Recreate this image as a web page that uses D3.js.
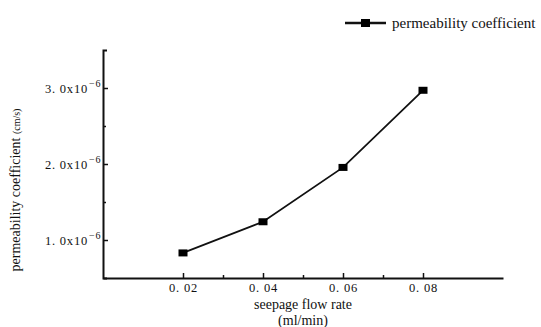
<!DOCTYPE html>
<meta charset="utf-8">
<style>
body { margin: 0; background: #fff; }
svg text { font-family: "Liberation Serif", "Times New Roman", "DejaVu Serif", serif; fill: #111; }
.tick text { font-size: 12.5px; letter-spacing: 0.8px; }
</style>
<svg width="541" height="327"></svg>
<script src="https://d3js.org/d3.v7.min.js"></script>
<script>

// data (permeability in units of 1e-6 cm/s)
var flowRate = [0.02, 0.04, 0.06, 0.08];
var permeability = [0.83, 1.24, 1.955, 2.97];
var xTicks = [0.02, 0.04, 0.06, 0.08];
var xTickLabels = ["0. 02", "0. 04", "0. 06", "0. 08"];
var yTicks = [1, 2, 3];
var yTickLabels = ["1. 0x10", "2. 0x10", "3. 0x10"];

var FONT = "'Liberation Serif', 'Times New Roman', 'DejaVu Serif', serif";

var svg = d3.select("svg");
var margin = {left: 103, right: 38, top: 50, bottom: 49};
var width = 541 - margin.left - margin.right,
    height = 327 - margin.top - margin.bottom;

var x = d3.scaleLinear().domain([0, 0.1]).range([margin.left, margin.left + width]);
var y = d3.scaleLinear().domain([0.5, 3.5]).range([margin.top + height, margin.top]);

/************* AXES ***************/
var xAxis = svg.append("g")
    .attr("transform", "translate(0," + (margin.top + height) + ")")
    .call(d3.axisBottom(x).tickValues(xTicks).tickSizeInner(-5).tickSizeOuter(0)
      .tickFormat(function(d, i) { return xTickLabels[i]; }));
xAxis.selectAll(".tick text").attr("y", 14).attr("dy", "0");

// minor x ticks
svg.append("g")
    .attr("transform", "translate(0," + (margin.top + height) + ")")
    .call(d3.axisBottom(x).tickValues([0.03, 0.05, 0.07]).tickSize(-3).tickFormat(""))
    .select(".domain").remove();

var yAxis = svg.append("g")
    .attr("transform", "translate(" + margin.left + ",0)")
    .call(d3.axisLeft(y).tickValues(yTicks).tickSizeInner(-5).tickSizeOuter(-4)
      .tickFormat(function(d, i) { return yTickLabels[i]; }));
yAxis.selectAll(".tick text").attr("x", -15);
yAxis.selectAll(".tick").append("text")
    .attr("x", -14).attr("dy", "-0.15em")
    .attr("text-anchor", "start")
    .style("font-size", "10px")
    .text("\u22126");

svg.append("g")
    .attr("transform", "translate(" + margin.left + ",0)")
    .call(d3.axisLeft(y).tickValues([1.5, 2.5]).tickSize(-3).tickFormat(""))
    .select(".domain").remove();

svg.selectAll("g").attr("font-family", FONT);
svg.selectAll(".domain, .tick line").attr("stroke", "#111");
svg.selectAll(".domain").attr("stroke-width", 2);
svg.selectAll(".tick line").attr("stroke-width", 1.5);

/************* LINE + MARKERS ***************/
var pts = flowRate.map(function(d, i) { return [d, permeability[i]]; });

svg.append("path")
    .datum(pts)
    .attr("fill", "none")
    .attr("stroke", "#111")
    .attr("stroke-width", 1.8)
    .attr("d", d3.line().x(function(d) { return x(d[0]); }).y(function(d) { return y(d[1]); }));

svg.selectAll("rect.pt")
    .data(pts)
    .enter().append("rect")
      .attr("class", "pt")
      .attr("x", function(d) { return x(d[0]) - 4.5; })
      .attr("y", function(d) { return y(d[1]) - 3.5; })
      .attr("width", 9)
      .attr("height", 7)
      .attr("fill", "#000");

/************* LABELS ***************/
svg.append("text")
    .attr("x", x(0.05)).attr("y", 309)
    .attr("text-anchor", "middle")
    .style("font-size", "14px")
    .text("seepage flow rate");
svg.append("text")
    .attr("x", x(0.05)).attr("y", 325)
    .attr("text-anchor", "middle")
    .style("font-size", "14px")
    .text("(ml/min)");

var ylab = svg.append("text")
    .attr("transform", "translate(20,190) rotate(-90)")
    .attr("text-anchor", "middle")
    .style("font-size", "14px");
ylab.append("tspan").text("permeability coefficient ");
ylab.append("tspan").style("font-size", "10px").text("(cm/s)");

/************* LEGEND ***************/
var legend = svg.append("g").attr("transform", "translate(345,23)");
legend.append("line")
    .attr("x1", 0).attr("x2", 41).attr("y1", 0).attr("y2", 0)
    .attr("stroke", "#111").attr("stroke-width", 2.5);
legend.append("rect")
    .attr("x", 16).attr("y", -4).attr("width", 9).attr("height", 8)
    .attr("fill", "#000");
legend.append("text")
    .attr("x", 47).attr("y", 4.5)
    .style("font-size", "15px")
    .text("permeability coefficient");

</script>
